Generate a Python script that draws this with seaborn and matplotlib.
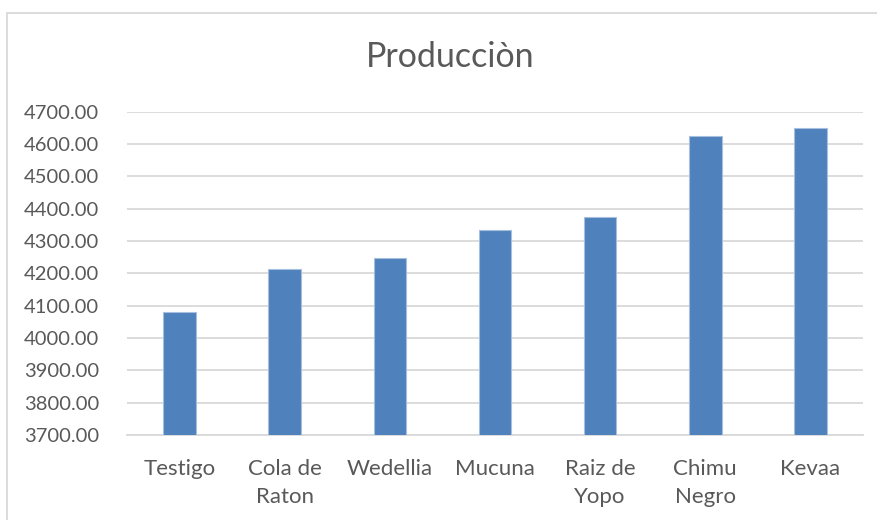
import matplotlib
matplotlib.use("Agg")
import matplotlib.pyplot as plt
import seaborn as sns
import pandas as pd
from matplotlib.patches import Rectangle

categories = ["Testigo", "Cola de\nRaton", "Wedellia", "Mucuna", "Raiz de\nYopo", "Chimu\nNegro", "Kevaa"]
produccion = [4081, 4214, 4249, 4334, 4373, 4626, 4649]
yticks = [3700, 3800, 3900, 4000, 4100, 4200, 4300, 4400, 4500, 4600, 4700]
title = "Producciòn"

sns.set_theme(style="white")
plt.rcParams['font.family'] = ['Lato', 'DejaVu Sans']

text_color = "#595959"
grid_color = "#D9D9D9"
bar_color = "#4F81BD"

df = pd.DataFrame({"cat": categories, "val": produccion})

fig = plt.figure(figsize=(8.78, 5.2), dpi=100)
ax = fig.add_axes([127/878, 1-435/520, (863-127)/878, (435-111.7)/520])

sns.barplot(data=df, x="cat", y="val", ax=ax, color=bar_color, saturation=1,
            width=0.31, edgecolor="#A7BFDE", linewidth=0.8, zorder=3)

ax.set_ylim(3700, 4700)
ax.set_xlim(-0.5, len(categories) - 0.5)
ax.set_yticks(yticks)
ax.set_yticklabels([f"{v:.2f}" for v in yticks])
ax.yaxis.grid(True, color=grid_color, linewidth=1.3, zorder=0)
ax.set_axisbelow(True)
for s in ["top", "right", "left"]:
    ax.spines[s].set_visible(False)
ax.spines["bottom"].set_color(grid_color)
ax.spines["bottom"].set_linewidth(1.3)
ax.tick_params(axis="both", length=0, colors=text_color)
ax.tick_params(axis="y", pad=20, labelsize=14.5)
ax.tick_params(axis="x", pad=17, labelsize=16)
for lab in ax.get_xticklabels():
    lab.set_linespacing(1.55)
ax.set_xlabel("")
ax.set_ylabel("")

fig.text(450/878, 1-57/520, title, ha="center", va="center", fontsize=24.5,
         color=text_color, fontweight="normal")

fig.patches.append(Rectangle((7/878, -0.1), 1.2, 1 - 12.5/520 + 0.1,
                             transform=fig.transFigure, fill=False,
                             edgecolor=grid_color, linewidth=1.3))

fig.savefig("out.png", dpi=100)
